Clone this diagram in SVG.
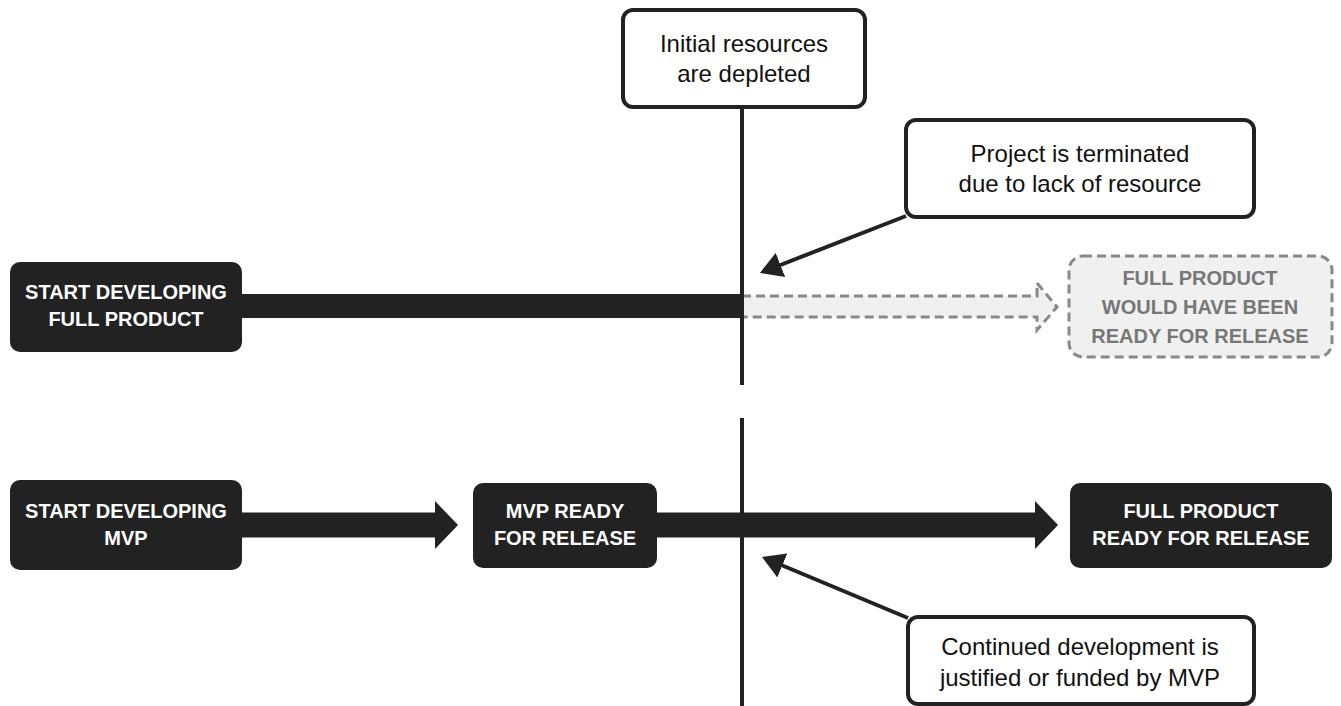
<svg xmlns="http://www.w3.org/2000/svg" width="1341" height="706" viewBox="0 0 1341 706">
<style>
.dark{fill:#222222;}
.call{fill:#ffffff;stroke:#222222;stroke-width:4;}
.ghost{fill:#f0f0f0;stroke:#888888;stroke-width:3;stroke-dasharray:9 5;}
.tw{font-family:"Liberation Sans",Arial,sans-serif;font-weight:bold;font-size:20px;fill:#ffffff;text-anchor:middle;}
.tg{font-family:"Liberation Sans",Arial,sans-serif;font-weight:bold;font-size:20px;fill:#777777;text-anchor:middle;}
.tb{font-family:"Liberation Sans",Arial,sans-serif;font-size:24px;fill:#111111;text-anchor:middle;}
.pointer{stroke:#222222;stroke-width:4;fill:none;marker-end:url(#head);}
.axis{stroke:#222222;stroke-width:4;}
</style>
<defs>
<marker id="head" markerUnits="userSpaceOnUse" markerWidth="22" markerHeight="26" viewBox="0 0 22 26" refX="18" refY="13" orient="auto">
<path d="M0,0 L22,13 L0,26 Z" fill="#222222"/>
</marker>
</defs>

<g id="connectors">
<rect class="dark" x="240" y="294" width="502" height="24"/>
<path d="M742,296 H1037 V283 L1057,307 L1037,330 V317 H742 Z" fill="#f0f0f0" stroke="none"/>
<path d="M742,296 H1037 V283 L1057,307 L1037,330 V317 H742" fill="none" stroke="#888888" stroke-width="3" stroke-dasharray="9 5"/>
<polygon class="dark" points="240,512.5 435,512.5 435,501 458,525 435,549 435,537.5 240,537.5"/>
<polygon class="dark" points="655,512.5 1035,512.5 1035,501 1058,525 1035,549 1035,537.5 655,537.5"/>
<line class="axis" x1="742" y1="105" x2="742" y2="385"/>
<line class="axis" x1="742" y1="418" x2="742" y2="706"/>
<line class="pointer" x1="906" y1="216" x2="763.7" y2="271.5"/>
<line class="pointer" x1="908" y1="618" x2="765.7" y2="558.5"/>
</g>

<g id="node-depleted">
<rect class="call" x="623" y="10" width="242" height="97" rx="10"/>
<text class="tb" x="744" y="52">Initial resources</text>
<text class="tb" x="744" y="82">are depleted</text>
</g>

<g id="node-terminated">
<rect class="call" x="906" y="120" width="348" height="97" rx="10"/>
<text class="tb" x="1080" y="162">Project is terminated</text>
<text class="tb" x="1080" y="192">due to lack of resource</text>
</g>

<g id="node-start-full">
<rect class="dark" x="10" y="262" width="232" height="90" rx="10"/>
<text class="tw" x="126" y="299">START DEVELOPING</text>
<text class="tw" x="126" y="326">FULL PRODUCT</text>
</g>

<g id="node-would-have">
<rect class="ghost" x="1069" y="256" width="263" height="101" rx="14"/>
<text class="tg" x="1200" y="285">FULL PRODUCT</text>
<text class="tg" x="1200" y="314">WOULD HAVE BEEN</text>
<text class="tg" x="1200" y="343">READY FOR RELEASE</text>
</g>

<g id="node-start-mvp">
<rect class="dark" x="10" y="480" width="232" height="90" rx="10"/>
<text class="tw" x="126" y="518">START DEVELOPING</text>
<text class="tw" x="126" y="545">MVP</text>
</g>

<g id="node-mvp-ready">
<rect class="dark" x="473" y="483" width="184" height="85" rx="10"/>
<text class="tw" x="565" y="518">MVP READY</text>
<text class="tw" x="565" y="545">FOR RELEASE</text>
</g>

<g id="node-full-ready">
<rect class="dark" x="1070" y="483" width="262" height="85" rx="10"/>
<text class="tw" x="1201" y="518">FULL PRODUCT</text>
<text class="tw" x="1201" y="545">READY FOR RELEASE</text>
</g>

<g id="node-continued">
<rect class="call" x="908" y="617" width="346" height="87" rx="10"/>
<text class="tb" x="1080" y="655">Continued development is</text>
<text class="tb" x="1080" y="686">justified or funded by MVP</text>
</g>
</svg>
